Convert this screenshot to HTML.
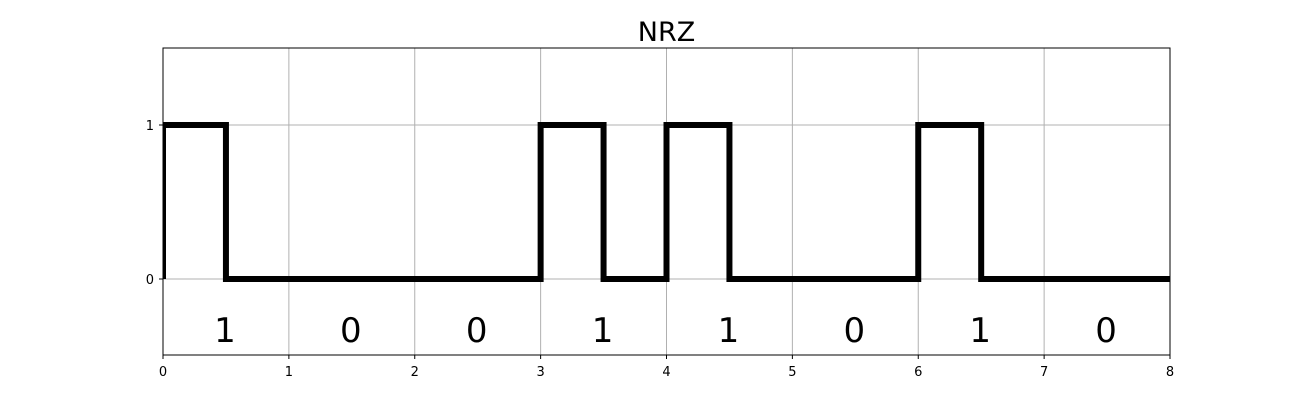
<!DOCTYPE html>
<html><head><meta charset="utf-8"><style>
body{margin:0;background:#fff;}
svg{display:block;font-family:"DejaVu Sans","Liberation Sans",sans-serif;}
</style></head><body>
<svg id="chart" width="1300" height="400">
<defs><clipPath id="clip"><rect x="163" y="48" width="1007" height="307"/></clipPath></defs>
<text x="666.5" y="41" text-anchor="middle" font-size="27">NRZ</text>
<g id="grid"></g>
<g id="ticks"></g>
<g id="signal" clip-path="url(#clip)"></g>
<g id="labels"></g>
<rect x="163" y="48" width="1007" height="307" fill="none" stroke="#000" stroke-width="1"/>
</svg>
<script>
const bits = [1, 0, 0, 1, 1, 0, 1, 0];
const xTicks = [0, 1, 2, 3, 4, 5, 6, 7, 8];
const yTicks = [0, 1];
const NS = "http://www.w3.org/2000/svg";
const x = v => 163 + v * (1007 / 8);
const y = v => 279 - v * 154;
function mk(tag, attrs, parent) {
  const e = document.createElementNS(NS, tag);
  for (const k in attrs) e.setAttribute(k, attrs[k]);
  parent.appendChild(e);
  return e;
}
const grid = document.getElementById('grid');
const ticks = document.getElementById('ticks');
xTicks.forEach(t => {
  const g = mk('line', {x1: x(t), x2: x(t), y1: 48, y2: 355, stroke: '#b0b0b0', 'stroke-width': 1}, grid);
  
  
  const tk = mk('line', {x1: x(t), x2: x(t), y1: 355, y2: 359, stroke: '#000'}, ticks);
  
  
  const lb = mk('text', {x: x(t), y: 376, 'text-anchor': 'middle', 'font-size': 13}, ticks);
  lb.textContent = t;
  
  
});
yTicks.forEach(t => {
  const g = mk('line', {x1: 163, x2: 1170, y1: y(t), y2: y(t), stroke: '#b0b0b0', 'stroke-width': 1}, grid);
  
  
  const tk = mk('line', {x1: 159, x2: 163, y1: y(t), y2: y(t), stroke: '#000'}, ticks);
  
  
  const lb = mk('text', {x: 154, y: y(t) + 5, 'text-anchor': 'end', 'font-size': 13}, ticks);
  lb.textContent = t;
  
  
});
let d = `M${x(0)},${y(0)}`;
bits.forEach((b, i) => {
  d += ` L${x(i)},${y(b)} L${x(i + 0.5)},${y(b)} L${x(i + 0.5)},${y(0)} L${x(i + 1)},${y(0)}`;
});
const p = mk('path', {d: d, fill: 'none', stroke: '#000', 'stroke-width': 6, 'stroke-linejoin': 'miter'}, document.getElementById('signal'));


const labels = document.getElementById('labels');
bits.forEach((b, i) => {
  const t = mk('text', {x: x(i + 0.5) - 1, y: y(-0.33) + 12, 'text-anchor': 'middle', 'font-size': 34}, labels);
  t.textContent = b;
  
  
});
</script>
</body></html>
